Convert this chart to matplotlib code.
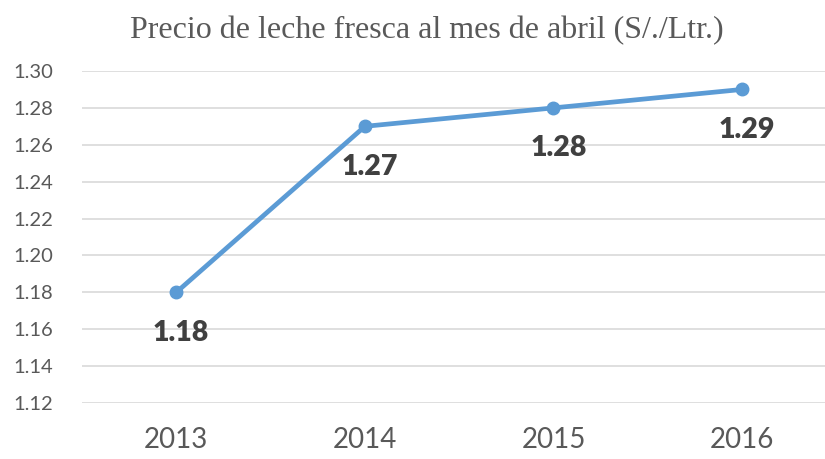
import matplotlib
matplotlib.use('Agg')
from matplotlib import pyplot as plt
import numpy as np

years = ['2013', '2014', '2015', '2016']
prices = [1.18, 1.27, 1.28, 1.29]
yticks = [1.12, 1.14, 1.16, 1.18, 1.20, 1.22, 1.24, 1.26, 1.28, 1.30]

LINE = '#5B9BD5'
TEXT = '#595959'


def main():
    plt.rcParams['font.family'] = ['Lato', 'DejaVu Sans']
    fig = plt.figure(figsize=(8.25, 4.59), dpi=100)
    ax = fig.add_axes([82 / 825, 56 / 459, 1 - 82 / 825, 332 / 459])

    x = np.arange(len(years))
    ax.plot(x, prices, color=LINE, lw=3.4, marker='o', ms=9, zorder=3,
            solid_capstyle='round')
    for xi, p in zip(x, prices):
        ax.annotate('%.2f' % p, (xi, p), xytext=(3.5, -29),
                    textcoords='offset points', ha='center', va='center',
                    fontsize=20.5, fontweight='heavy', color='#404040')

    ax.set_ylim(1.12, 1.30)
    ax.set_xlim(-0.5, (825 - 82) / 188.6 - 0.5)
    ax.set_yticks(yticks)
    ax.set_yticklabels(['%.2f' % t for t in yticks])
    ax.set_xticks(x)
    ax.set_xticklabels(years)
    ax.tick_params(axis='y', length=0, labelsize=14.5, labelcolor=TEXT, pad=21)
    ax.tick_params(axis='x', length=0, labelsize=20, labelcolor=TEXT, pad=17)
    ax.grid(axis='y', color='#D9D9D9', lw=1.2)
    ax.set_axisbelow(True)
    for s in ax.spines.values():
        s.set_visible(False)

    fig.text(427 / 825, 1 - 31 / 459, 'Precio de leche fresca al mes de abril (S/./Ltr.)',
             ha='center', va='center', fontsize=23, color=TEXT,
             family='Liberation Serif')

    fig.savefig('out.png', dpi=100)


if __name__ == "__main__":
    main()
